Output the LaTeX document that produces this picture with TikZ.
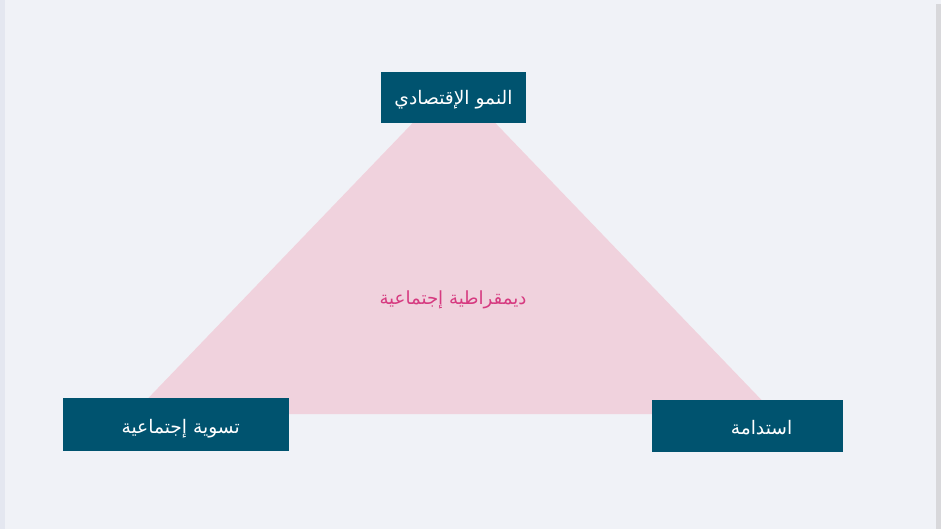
\documentclass[tikz,border=0pt]{standalone}
\usepackage{fontspec}
\newfontfamily\arabicfont[Script=Arabic]{DejaVu Sans}
\TeXXeTstate=1
\definecolor{hbg}{RGB}{240,242,247}
\definecolor{hbg0}{RGB}{228,231,240}
\definecolor{hshade}{RGB}{216,216,219}
\definecolor{hbox}{RGB}{0,83,111}
\definecolor{hpink}{RGB}{240,210,221}
\definecolor{hmag}{RGB}{214,58,128}
\tikzset{goalbox/.style={fill=hbox, text=white, inner sep=0pt,
  font=\arabicfont\fontsize{14}{16}\selectfont}}

\begin{document}
\begin{tikzpicture}[x=0.75pt,y=-0.75pt]
\fill[hbg] (0,0) rectangle (941,529);
\fill[hbg0] (0,0) rectangle (5,529);
\fill[hshade] (936,4) rectangle (941,529);
% the triangle
\coordinate (apex) at (454,80);
\coordinate (bl) at (133,414);
\coordinate (br) at (775,414);
\fill[hpink] (apex) -- (bl) -- (br) -- cycle;
\node[font=\arabicfont\fontsize{13.6}{16}\selectfont, text=hmag] (mid) at (453,300) {\beginR ديمقراطية إجتماعية\endR};
% the three goals
\node[goalbox, minimum width=108.75pt, minimum height=38.25pt] (growth) at (453.5,97.5) {\raisebox{-2pt}[\height][\depth]{\beginR النمو الإقتصادي\endR}};
\node[goalbox, minimum width=169.5pt, minimum height=39.75pt] (equity) at (176,424.5) {\hspace*{7pt}\raisebox{-3.5pt}[\height][\depth]{\beginR تسوية إجتماعية\endR}};
\node[goalbox, minimum width=143.25pt, minimum height=39pt] (sustain) at (747.5,426) {\hspace*{21pt}\raisebox{-1.5pt}[\height][\depth]{\beginR استدامة\endR}};
\end{tikzpicture}
\end{document}
